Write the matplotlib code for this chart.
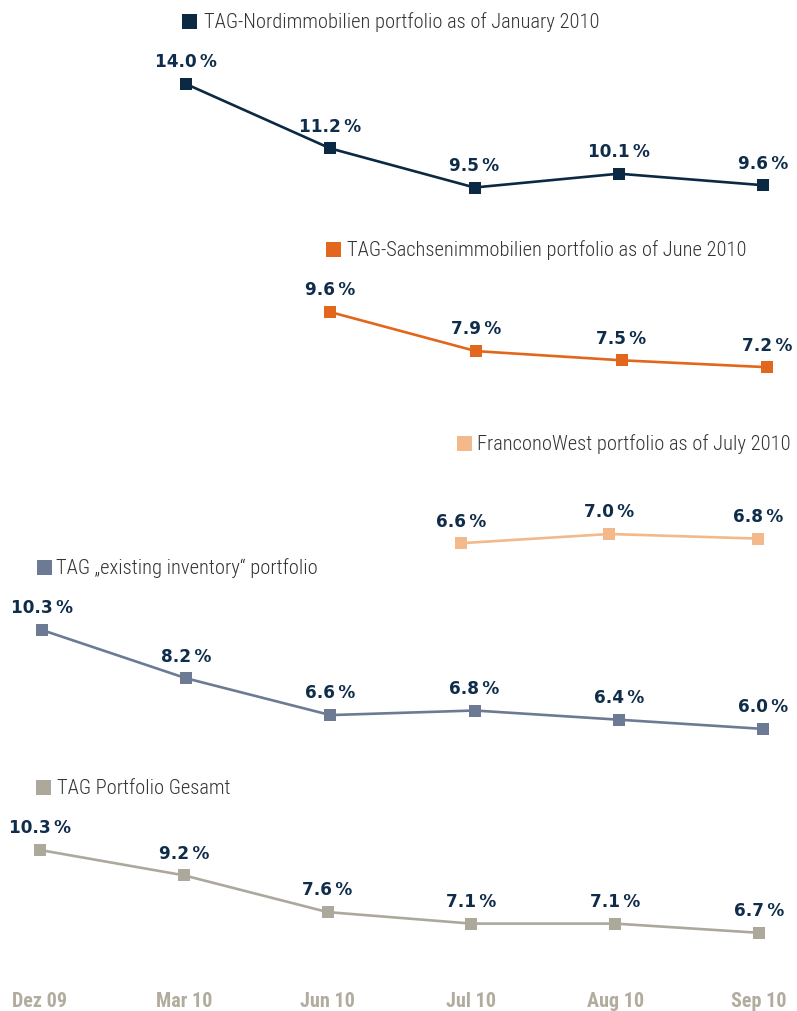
import matplotlib
matplotlib.use("Agg")
import matplotlib.pyplot as plt
from matplotlib.lines import Line2D

# ---------------- data ----------------
months = ["Dez 09", "Mar 10", "Jun 10", "Jul 10", "Aug 10", "Sep 10"]

nord_names = "TAG-Nordimmobilien portfolio as of January 2010"
nord_idx = [1, 2, 3, 4, 5]
nord_vals = [14.0, 11.2, 9.5, 10.1, 9.6]

sachsen_names = "TAG-Sachsenimmobilien portfolio as of June 2010"
sachsen_idx = [2, 3, 4, 5]
sachsen_vals = [9.6, 7.9, 7.5, 7.2]

franco_names = "FranconoWest portfolio as of July 2010"
franco_idx = [3, 4, 5]
franco_vals = [6.6, 7.0, 6.8]

existing_names = "TAG \u201eexisting inventory\u201c portfolio"
existing_idx = [0, 1, 2, 3, 4, 5]
existing_vals = [10.3, 8.2, 6.6, 6.8, 6.4, 6.0]

gesamt_names = "TAG Portfolio Gesamt"
gesamt_idx = [0, 1, 2, 3, 4, 5]
gesamt_vals = [10.3, 9.2, 7.6, 7.1, 7.1, 6.7]

# ---------------- style / layout ----------------
W, H = 797, 1011
fig = plt.figure(figsize=(W / 100, H / 100), dpi=100)
fig.patch.set_facecolor("white")

LABEL_COLOR = "#0f2d4a"
LEGEND_TEXT = "#333333"
TICK_COLOR = "#b2ac9f"
PPU = 23.0  # pixels per percentage point

panels = [
    # name, idx, vals, color, band(top,bottom), x0, dx, (v_ref, y_ref), legend marker (x,y), legend text x
    (nord_names, nord_idx, nord_vals, "#0b2942", (40, 210), 41.75, 144.25, (14.0, 84), (189, 20.5), 204),
    (sachsen_names, sachsen_idx, sachsen_vals, "#e2661b", (270, 390), 38.7, 145.7, (9.6, 312), (333, 249), 347),
    (franco_names, franco_idx, franco_vals, "#f3b98a", (470, 560), 15.5, 148.5, (7.0, 534), (464, 442.5), 477),
    (existing_names, existing_idx, existing_vals, "#6c7b93", (590, 750), 42.0, 144.2, (10.3, 630), (44, 567), 56),
    (gesamt_names, gesamt_idx, gesamt_vals, "#aca89b", (810, 985), 40.0, 143.8, (10.3, 850), (43, 787), 57),
]

axes = []
for name, idx, vals, color, (T, B), x0, dx, (vref, yref), (mx, my), tx in panels:
    ax = fig.add_axes([0, 1 - B / H, 1, (B - T) / H])
    ax.set_xlim(-x0 / dx, (W - x0) / dx)
    ax.set_ylim(vref + (yref - B) / PPU, vref + (yref - T) / PPU)
    ax.plot(idx, vals, color=color, lw=1.9, marker="s", ms=8.6,
            markeredgewidth=0, clip_on=False, solid_joinstyle="miter")
    for i, v in zip(idx, vals):
        ax.annotate(f"{v:.1f}\u2009%", (i, v), xytext=(0, 12), textcoords="offset points",
                    ha="center", va="baseline", fontsize=12.2, fontweight="bold",
                    color=LABEL_COLOR, family="DejaVu Sans", annotation_clip=False)
    for s in ax.spines.values():
        s.set_visible(False)
    ax.set_yticks([])
    ax.set_xticks([])
    ax.patch.set_alpha(0)
    # legend entry
    fig.add_artist(Line2D([mx / W], [1 - my / H], marker="s", ms=10.8, color=color,
                          markeredgewidth=0, transform=fig.transFigure))
    fig.text(tx / W, 1 - (my + 7.5) / H, name, ha="left", va="baseline", fontsize=14.8,
             color=LEGEND_TEXT, family="Roboto Condensed", fontweight=300)
    axes.append(ax)

axb = axes[-1]
axb.set_xticks(range(len(months)))
axb.set_xticklabels(months, fontsize=14.5, fontweight="bold", color=TICK_COLOR,
                    family="Roboto Condensed")
axb.tick_params(axis="x", length=0, pad=5)

fig.savefig("out.png", dpi=100, facecolor="white")
